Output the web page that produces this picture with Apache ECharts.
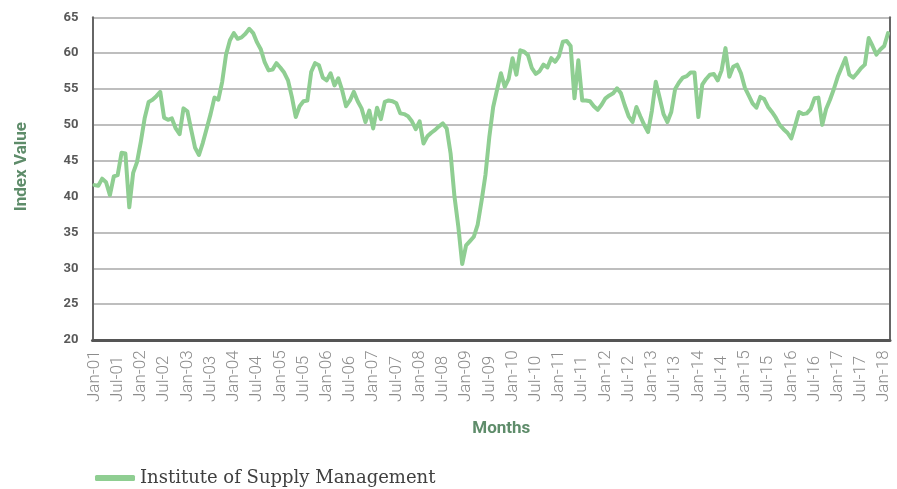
<!DOCTYPE html>
<html>
<head>
<meta charset="utf-8">
<script src="https://cdn.jsdelivr.net/npm/echarts@6/dist/echarts.min.js"></script>
<style>
  html, body { margin: 0; padding: 0; background: #ffffff; }
  #chart { width: 897px; height: 489px; }
</style>
</head>
<body>
<div id="chart"></div>
<script>
// Monthly category labels Jan-01 .. Feb-18
const monthNames = ['Jan','Feb','Mar','Apr','May','Jun','Jul','Aug','Sep','Oct','Nov','Dec'];
const years = ['01','02','03','04','05','06','07','08','09','10','11','12','13','14','15','16','17','18'];
const categories = [];
years.forEach(function (y, yi) {
  monthNames.forEach(function (m, mi) {
    if (yi < years.length - 1 || mi < 2) categories.push(m + '-' + y);
  });
});

// Index values, one array per year
const v2001 = [41.6, 41.5, 42.5, 42.0, 40.2, 42.8, 43.0, 46.1, 46.0, 38.5, 43.3, 44.8];
const v2002 = [47.7, 51.0, 53.2, 53.5, 54.0, 54.6, 51.0, 50.7, 50.9, 49.5, 48.7, 52.3];
const v2003 = [51.9, 49.3, 46.8, 45.8, 47.5, 49.5, 51.5, 53.8, 53.5, 56.0, 59.8, 61.8];
const v2004 = [62.8, 62.0, 62.2, 62.7, 63.4, 62.8, 61.5, 60.5, 58.7, 57.6, 57.7, 58.6];
const v2005 = [58.0, 57.3, 56.2, 53.9, 51.1, 52.6, 53.3, 53.4, 57.4, 58.6, 58.3, 56.6];
const v2006 = [56.2, 57.2, 55.5, 56.5, 54.8, 52.6, 53.4, 54.6, 53.3, 52.3, 50.4, 52.0];
const v2007 = [49.5, 52.4, 50.8, 53.2, 53.4, 53.3, 53.0, 51.6, 51.5, 51.2, 50.5, 49.4];
const v2008 = [50.5, 47.4, 48.4, 48.9, 49.3, 49.8, 50.2, 49.5, 46.0, 40.0, 35.8, 30.6];
const v2009 = [33.2, 33.8, 34.4, 36.1, 39.4, 43.0, 48.3, 52.5, 54.9, 57.2, 55.3, 56.4];
const v2010 = [59.3, 57.0, 60.4, 60.2, 59.7, 57.9, 57.1, 57.5, 58.4, 58.0, 59.3, 58.8];
const v2011 = [59.6, 61.6, 61.7, 61.0, 53.7, 59.0, 53.4, 53.4, 53.3, 52.6, 52.1, 52.8];
const v2012 = [53.7, 54.1, 54.4, 55.1, 54.4, 52.7, 51.2, 50.4, 52.5, 51.2, 50.0, 49.0];
const v2013 = [52.0, 56.0, 53.8, 51.5, 50.4, 51.8, 55.0, 55.9, 56.6, 56.8, 57.3, 57.3];
const v2014 = [51.1, 55.6, 56.4, 57.0, 57.1, 56.2, 57.6, 60.7, 56.7, 58.1, 58.4, 57.2];
const v2015 = [55.2, 54.1, 53.0, 52.4, 53.9, 53.6, 52.5, 51.8, 51.0, 50.0, 49.4, 48.9];
const v2016 = [48.1, 49.9, 51.8, 51.5, 51.6, 52.2, 53.7, 53.8, 50.0, 52.2, 53.5, 55.0];
const v2017 = [56.7, 58.0, 59.3, 57.0, 56.6, 57.2, 57.9, 58.4, 62.1, 61.0, 59.8, 60.5];
const v2018 = [61.0, 62.8];

const ismValues = [].concat(v2001, v2002, v2003, v2004, v2005, v2006, v2007, v2008, v2009,
  v2010, v2011, v2012, v2013, v2014, v2015, v2016, v2017, v2018);

const seriesName = 'Institute of Supply Management';
const yTicks = { min: 20, max: 65, step: 5 };

const chart = echarts.init(document.getElementById('chart'), null, { renderer: 'canvas' });
chart.setOption({
  backgroundColor: '#ffffff',
  animation: false,
  grid: { left: 92.5, right: 7, top: 17.3, bottom: 149, containLabel: false },
  legend: {
    data: [seriesName],
    left: 95,
    top: 469,
    padding: 0,
    itemWidth: 40,
    itemHeight: 6,
    icon: 'roundRect',
    textStyle: { fontFamily: 'DejaVu Serif', fontSize: 18, color: '#404040' }
  },
  xAxis: {
    type: 'category',
    data: categories,
    boundaryGap: true,
    name: 'Months',
    nameLocation: 'middle',
    nameGap: 80,
    nameTextStyle: { fontFamily: 'Roboto', fontWeight: 'bold', fontSize: 17, color: '#5e8c6a', padding: [0, 0, 0, 20] },
    axisLine: { show: true, lineStyle: { color: '#555555', width: 3 } },
    axisTick: { show: false },
    axisLabel: {
      interval: 5,
      rotate: 90,
      margin: 10,
      color: '#8c8c8c',
      fontFamily: 'Roboto',
      fontWeight: 300,
      fontSize: 17,
      formatter: function (v) { return '{a|' + v + '}'; },
      rich: { a: { width: 52, align: 'left', fontFamily: 'Roboto', fontWeight: 300, fontSize: 17, color: '#8c8c8c' } }
    },
    splitLine: { show: false }
  },
  yAxis: [{
    type: 'value',
    min: yTicks.min,
    max: yTicks.max,
    interval: yTicks.step,
    name: 'Index Value',
    nameLocation: 'middle',
    nameGap: 62,
    nameTextStyle: { fontFamily: 'Roboto', fontWeight: 'bold', fontSize: 17, color: '#5e8c6a', padding: [0, 0, 0, 24] },
    axisLine: { show: true, lineStyle: { color: '#666666', width: 2 } },
    axisTick: { show: false },
    axisLabel: { margin: 14, color: '#595959', fontFamily: 'Roboto', fontWeight: 'bold', fontSize: 13 },
    splitLine: { show: true, lineStyle: { color: '#a8a8a8', width: 1.5 } }
  }, {
    type: 'value',
    position: 'right',
    min: yTicks.min,
    max: yTicks.max,
    interval: yTicks.step,
    axisLine: { show: true, lineStyle: { color: '#666666', width: 2 } },
    axisTick: { show: false },
    axisLabel: { show: false },
    splitLine: { show: false }
  }],
  series: [{
    name: seriesName,
    type: 'line',
    data: ismValues,
    yAxisIndex: 0,
    symbol: 'none',
    smooth: false,
    lineStyle: { color: '#8fce92', width: 4, join: 'round', cap: 'round' },
    itemStyle: { color: '#8fce92' }
  }]
});
</script>
</body>
</html>
